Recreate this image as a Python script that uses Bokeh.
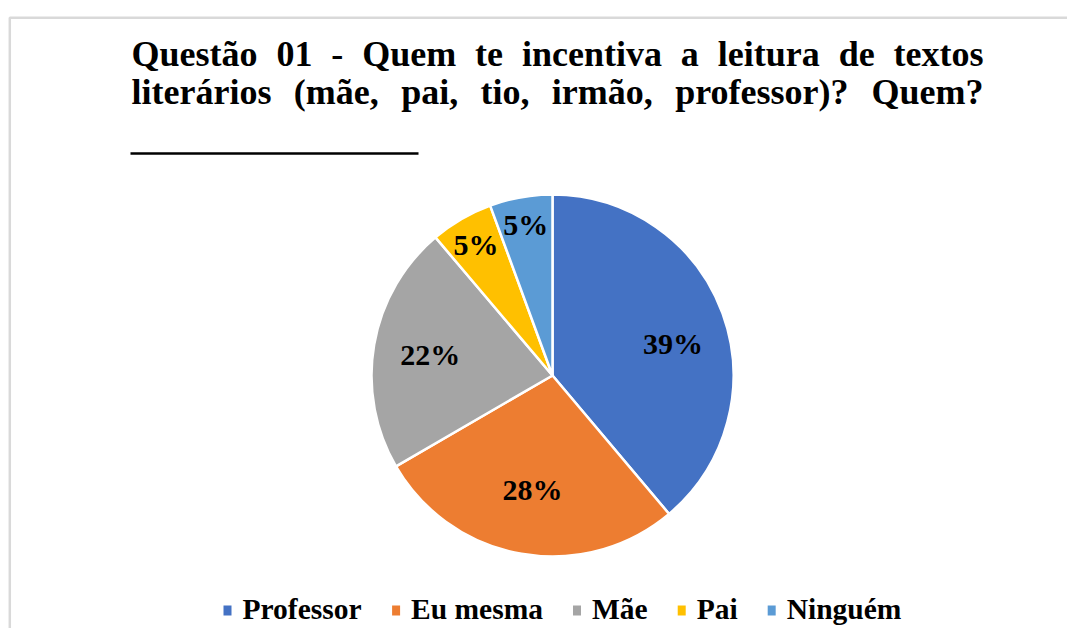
import unicodedata
import numpy as np
from bokeh.plotting import figure
from bokeh.models import Range1d, ColumnDataSource
from bokeh.core.properties import value
from bokeh.embed import file_html
from bokeh.resources import INLINE

# ---------------- data ----------------
categories = ["Professor", "Eu mesma", "Mãe", "Pai", "Ninguém"]
shares = [38.9, 27.8, 22.2, 5.6, 5.6]
pct_labels = ["39%", "28%", "22%", "5%", "5%"]
colors = ["#4472C4", "#ED7D31", "#A5A5A5", "#FFC000", "#5B9BD5"]
title_lines = [
    "Questão 01 - Quem te incentiva a leitura de textos",
    "literários (mãe, pai, tio, irmão, professor)? Quem?",
]

# ---------------- layout / style ----------------
W, H = 1067, 628
FONT = "Liberation Serif"
def fx(px):
    return px
def fy(py):
    return H - py

CX, CY, R = fx(552), fy(375), 181
label_r = [0.69, 0.64, 0.685, 0.84, 0.845]
label_adj_deg = [-5, 0, 0, 0, 0]

# Times/Liberation Serif Bold advance widths (1/1000 em)
ADV = {' ': 250, 'a': 500, 'b': 556, 'c': 444, 'd': 556, 'e': 444, 'f': 333, 'g': 500,
       'h': 556, 'i': 278, 'j': 333, 'k': 556, 'l': 278, 'm': 833, 'n': 556, 'o': 500,
       'p': 556, 'q': 556, 'r': 444, 's': 389, 't': 333, 'u': 556, 'v': 500, 'w': 722,
       'x': 500, 'y': 500, 'z': 444, 'Q': 778, 'M': 944, 'P': 611, 'E': 667, 'N': 722,
       '-': 333, '(': 333, ')': 333, '?': 500, ',': 250, '%': 1000}
def tw(s, size):
    tot = 0
    for c in s:
        b = unicodedata.normalize("NFD", c)[0]
        tot += ADV.get(b, 500)
    return tot * size / 1000.0

p = figure(width=W, height=H, output_backend="svg", toolbar_location=None,
           x_range=Range1d(0, W), y_range=Range1d(0, H),
           min_border=0, min_border_left=0, min_border_right=0,
           min_border_top=0, min_border_bottom=0)
p.axis.visible = False
p.grid.visible = False
p.outline_line_color = None
p.background_fill_color = "white"
p.border_fill_color = "white"

# chart frame (partially visible)
p.line(x=[fx(9.3), fx(9.3), W + 20], y=[-20, fy(17.3), fy(17.3)],
       line_color="#D9D9D9", line_width=2.5)

# ---------------- title (justified words) ----------------
TSIZE = 36
left, right = 131, 983
line_mid = [53.5, 91.5]
for line, my in zip(title_lines, line_mid):
    words = line.split()
    widths = [tw(w, TSIZE) for w in words]
    gap = (right - left - sum(widths)) / (len(words) - 1)
    xs, x = [], left
    for w in widths:
        xs.append(fx(x))
        x += w + gap
    p.text(x=xs, y=[fy(my)] * len(words), text=words,
           text_font=value(FONT), text_font_style="bold",
           text_font_size=f"{TSIZE}px", text_color="black",
           text_align="left", text_baseline="middle")
# answer underline
p.line(x=[fx(130), fx(418)], y=[fy(153), fy(153)], line_color="black", line_width=2.5)

# ---------------- pie ----------------
fr = np.array(shares) / sum(shares)
cum = np.concatenate([[0], np.cumsum(fr)])
start = np.pi / 2 - cum[:-1] * 2 * np.pi
end = np.pi / 2 - cum[1:] * 2 * np.pi
src = ColumnDataSource(dict(start=start, end=end, color=colors, cat=categories))
p.wedge(x=CX, y=CY, radius=R, start_angle="start", end_angle="end",
        direction="clock", fill_color="color", line_color="white",
        line_width=2.5, source=src)

mid = (start + end) / 2 + np.radians(label_adj_deg)
lx = CX + np.array(label_r) * R * np.cos(mid)
ly = CY + np.array(label_r) * R * np.sin(mid)
p.text(x=lx, y=ly, text=pct_labels, text_font=value(FONT), text_font_style="bold",
       text_font_size="30px", text_color="black", text_align="center",
       text_baseline="middle")

# ---------------- legend ----------------
LSIZE = 29.5
x = 223
mx, tx = [], []
for c in categories:
    mx.append(fx(x + 4))
    tx.append(fx(x + 19))
    x = x + 19 + tw(c, LSIZE) + 30
p.rect(x=mx, y=[fy(610)] * len(mx), width=8, height=10, fill_color=colors,
       line_color=None)
p.text(x=tx, y=[fy(608)] * len(tx), text=categories, text_font=value(FONT),
       text_font_style="bold", text_font_size=f"{LSIZE}px", text_color="black",
       text_align="left", text_baseline="middle")

open("out.html", "w").write(file_html(p, INLINE))
